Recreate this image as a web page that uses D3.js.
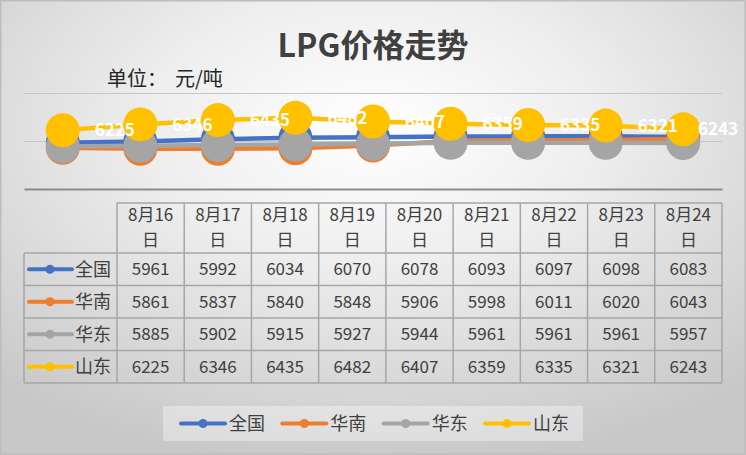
<!DOCTYPE html>
<html>
<head>
<meta charset="utf-8">
<script src="https://cdn.jsdelivr.net/npm/d3@7"></script>
<style>
  html, body { margin: 0; padding: 0; background: #fff; }
  svg { display: block; font-family: "Noto Sans CJK SC", "Noto Sans", sans-serif; }
</style>
</head>
<body>
<div id="chart"></div>
<script>
// data
var dates = ["8月16日", "8月17日", "8月18日", "8月19日", "8月20日", "8月21日", "8月22日", "8月23日", "8月24日"];
var seriesNames = ["全国", "华南", "华东", "山东"];
var quanguo = [5961, 5992, 6034, 6070, 6078, 6093, 6097, 6098, 6083];
var huanan  = [5861, 5837, 5840, 5848, 5906, 5998, 6011, 6020, 6043];
var huadong = [5885, 5902, 5915, 5927, 5944, 5961, 5961, 5961, 5957];
var shandong = [6225, 6346, 6435, 6482, 6407, 6359, 6335, 6321, 6243];
var yTicks = [5000, 6000, 7000];

var colors = ["#4472C4", "#ED7D31", "#A5A5A5", "#FFC000"];
var series = [
  {name: seriesNames[0], values: quanguo, color: colors[0]},
  {name: seriesNames[1], values: huanan, color: colors[1]},
  {name: seriesNames[2], values: huadong, color: colors[2]},
  {name: seriesNames[3], values: shandong, color: colors[3]}
];

var W = 746, H = 455;

var svg = d3.select("#chart").append("svg")
  .attr("width", W)
  .attr("height", H);

// background
var grad = svg.append("defs").append("radialGradient")
  .attr("id", "bg")
  .attr("cx", "50%").attr("cy", "28%").attr("r", "75%");
grad.append("stop").attr("offset", "0%").attr("stop-color", "#ffffff");
grad.append("stop").attr("offset", "40%").attr("stop-color", "#eeeeee");
grad.append("stop").attr("offset", "100%").attr("stop-color", "#c8c8c8");

svg.append("rect")
  .attr("x", 0.75).attr("y", 0.75)
  .attr("width", W - 1.5).attr("height", H - 1.5)
  .attr("fill", "url(#bg)")
  .attr("stroke", "#bdbdbd")
  .attr("stroke-width", 1.5);

// title
svg.append("text")
  .attr("x", 373).attr("y", 57)
  .attr("text-anchor", "middle")
  .attr("font-size", 32)
  .attr("font-weight", "bold")
  .attr("fill", "#404040")
  .text("LPG价格走势");

svg.append("text")
  .attr("x", 107).attr("y", 86)
  .attr("font-size", 20)
  .attr("fill", "#262626")
  .text("单位：");
svg.append("text")
  .attr("x", 175).attr("y", 86)
  .attr("font-size", 20)
  .attr("fill", "#262626")
  .text("元/吨");

// plot area
var plotLeft = 24, plotRight = 722, plotTop = 93, plotBottom = 189;

var x = d3.scaleBand()
  .domain(dates)
  .range([plotLeft, plotRight]);

var y = d3.scaleLinear()
  .domain([5000, 7000])
  .range([plotBottom, plotTop]);

// gridlines
var grid = svg.append("g")
  .attr("transform", "translate(" + plotLeft + ",0)")
  .call(d3.axisLeft(y).tickValues(yTicks.slice(1)).tickSize(-(plotRight - plotLeft)).tickFormat(""));
grid.select(".domain").remove();
grid.selectAll(".tick line").attr("stroke", "#c6c6c6").attr("stroke-width", 1.2);

// category axis line
var xAxis = svg.append("g")
  .attr("transform", "translate(0," + y(yTicks[0]) + ")")
  .call(d3.axisBottom(x).tickSize(0).tickFormat(""));
xAxis.select(".domain").attr("stroke", "#8c8c8c").attr("stroke-width", 2);

var line = d3.line()
  .x(function(d, i) { return x(dates[i]) + x.bandwidth() / 2; })
  .y(function(d) { return y(d); });

series.forEach(function(s) {
  var g = svg.append("g");
  g.append("path")
    .datum(s.values)
    .attr("fill", "none")
    .attr("stroke", s.color)
    .attr("stroke-width", 4.5)
    .attr("d", line);
  g.selectAll("circle")
    .data(s.values)
    .enter()
    .append("circle")
      .attr("cx", function(d, i) { return x(dates[i]) + x.bandwidth() / 2; })
      .attr("cy", function(d) { return y(d); })
      .attr("r", 17)
      .attr("fill", s.color);
});

// data labels for 山东
var labelG = svg.append("g");
shandong.forEach(function(v, i) {
  var cx = x(dates[i]) + x.bandwidth() / 2;
  var t = labelG.append("text")
    .attr("x", cx + 32)
    .attr("y", y(v))
    .attr("dy", "0.36em")
    .attr("font-size", 17)
    .attr("font-weight", "bold")
    .attr("fill", "#ffffff")
    .text(v);
  var w = t.node().getComputedTextLength();
  if (cx + 32 + w > W - 8) t.attr("x", W - 8 - w);
});

// data table
var tableLeft = 24, tableColLeft = 117, tableRight = 722;
var headTop = 203, headBottom = 253, tableBottom = 383;

var col = d3.scaleBand()
  .domain(dates)
  .range([tableColLeft, tableRight]);

var row = d3.scaleBand()
  .domain(seriesNames)
  .range([headBottom, tableBottom]);

var table = svg.append("g");
var lineColor = "#a6a6a6";

// horizontal rules
table.append("line")
  .attr("x1", tableColLeft).attr("x2", tableRight)
  .attr("y1", headTop).attr("y2", headTop);
table.selectAll(".hrule")
  .data(seriesNames)
  .enter()
  .append("line")
    .attr("class", "hrule")
    .attr("x1", tableLeft).attr("x2", tableRight)
    .attr("y1", function(d) { return row(d); })
    .attr("y2", function(d) { return row(d); });
table.append("line")
  .attr("x1", tableLeft).attr("x2", tableRight)
  .attr("y1", tableBottom).attr("y2", tableBottom);

// vertical rules
table.append("line")
  .attr("x1", tableLeft).attr("x2", tableLeft)
  .attr("y1", headBottom).attr("y2", tableBottom);
table.selectAll(".vrule")
  .data(dates)
  .enter()
  .append("line")
    .attr("class", "vrule")
    .attr("x1", function(d) { return col(d); })
    .attr("x2", function(d) { return col(d); })
    .attr("y1", headTop).attr("y2", tableBottom);
table.append("line")
  .attr("x1", tableRight).attr("x2", tableRight)
  .attr("y1", headTop).attr("y2", tableBottom);

table.selectAll("line")
  .attr("stroke", lineColor)
  .attr("stroke-width", 1.5);

// header text
dates.forEach(function(d) {
  var cx = col(d) + col.bandwidth() / 2;
  table.append("text")
    .attr("x", cx).attr("y", 221)
    .attr("text-anchor", "middle")
    .attr("font-size", 17)
    .attr("fill", "#404040")
    .text(d.slice(0, d.length - 1));
  table.append("text")
    .attr("x", cx).attr("y", 246)
    .attr("text-anchor", "middle")
    .attr("font-size", 17)
    .attr("fill", "#404040")
    .text(d.slice(-1));
});

// rows
series.forEach(function(s) {
  var cy = row(s.name) + row.bandwidth() / 2;
  table.append("line")
    .attr("x1", 29).attr("x2", 72)
    .attr("y1", cy).attr("y2", cy)
    .attr("stroke", s.color)
    .attr("stroke-width", 4)
    .attr("stroke-linecap", "round");
  table.append("circle")
    .attr("cx", 50).attr("cy", cy).attr("r", 4.5)
    .attr("fill", s.color);
  table.append("text")
    .attr("x", 75).attr("y", cy)
    .attr("dy", "0.36em")
    .attr("font-size", 18)
    .attr("fill", "#404040")
    .text(s.name);
  s.values.forEach(function(v, i) {
    table.append("text")
      .attr("x", col(dates[i]) + col.bandwidth() / 2)
      .attr("y", cy)
      .attr("dy", "0.36em")
      .attr("text-anchor", "middle")
      .attr("font-size", 17)
      .attr("fill", "#404040")
      .text(v);
  });
});

// legend
var legend = svg.append("g");
legend.append("rect")
  .attr("x", 163).attr("y", 406)
  .attr("width", 420).attr("height", 35)
  .attr("fill", "#ffffff")
  .attr("fill-opacity", 0.35);

var legendX = d3.scalePoint()
  .domain(seriesNames)
  .range([181, 485]);

series.forEach(function(s) {
  var lx = legendX(s.name), ly = 423.5;
  legend.append("line")
    .attr("x1", lx).attr("x2", lx + 44)
    .attr("y1", ly).attr("y2", ly)
    .attr("stroke", s.color)
    .attr("stroke-width", 4)
    .attr("stroke-linecap", "round");
  legend.append("circle")
    .attr("cx", lx + 22).attr("cy", ly).attr("r", 4.5)
    .attr("fill", s.color);
  legend.append("text")
    .attr("x", lx + 48).attr("y", ly)
    .attr("dy", "0.36em")
    .attr("font-size", 18)
    .attr("fill", "#404040")
    .text(s.name);
});
</script>
</body>
</html>
